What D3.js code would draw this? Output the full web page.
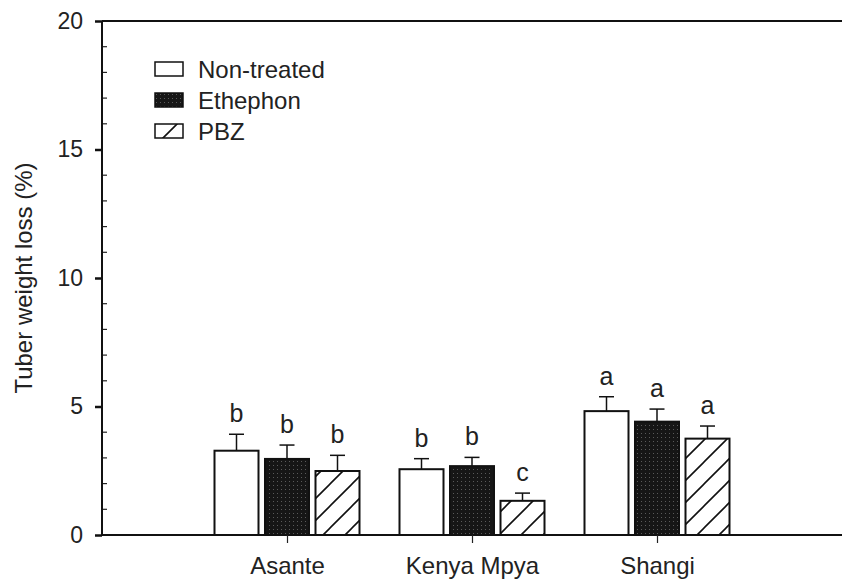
<!DOCTYPE html>
<html>
<head>
<meta charset="utf-8">
<script src="https://cdn.jsdelivr.net/npm/d3@7"></script>
<style>
	body { margin: 0; background: #fff; }
	svg { display: block; font-family: "Liberation Sans", Arial, sans-serif; }
</style>
</head>
<body>
<div id="chart"></div>
<script>
var cultivars = ["Asante", "Kenya Mpya", "Shangi"];
var treatments = ["Non-treated", "Ethephon", "PBZ"];
// mean tuber weight loss (%) per cultivar, one array per treatment
var nonTreated = [3.28, 2.56, 4.82];
var ethephon = [2.96, 2.68, 4.41];
var pbz = [2.49, 1.33, 3.75];
// standard error
var nonTreatedErr = [0.64, 0.41, 0.56];
var ethephonErr = [0.54, 0.34, 0.49];
var pbzErr = [0.61, 0.30, 0.49];
// significance letters
var nonTreatedLetters = ["b", "b", "a"];
var ethephonLetters = ["b", "b", "a"];
var pbzLetters = ["b", "c", "a"];
var yTicks = [0, 5, 10, 15, 20];

var width = 842,
	height = 582;
var marginLeft = 102,
	marginTop = 21,
	axisBottom = 535;

var series = [
	{ name: treatments[0], values: nonTreated, err: nonTreatedErr, letters: nonTreatedLetters, fill: "#fff" },
	{ name: treatments[1], values: ethephon, err: ethephonErr, letters: ethephonLetters, fill: "url(#dots)" },
	{ name: treatments[2], values: pbz, err: pbzErr, letters: pbzLetters, fill: "url(#hatch)" },
];

var svg = d3
	.select("#chart")
	.append("svg")
	.attr("width", width)
	.attr("height", height);

var defs = svg.append("defs");
var dots = defs
	.append("pattern")
	.attr("id", "dots")
	.attr("patternUnits", "userSpaceOnUse")
	.attr("width", 4)
	.attr("height", 4);
dots.append("rect").attr("width", 4).attr("height", 4).attr("fill", "#161616");
dots.append("rect").attr("x", 1).attr("y", 1).attr("width", 1).attr("height", 1).attr("fill", "#5a5a5a");

var hatch = defs
	.append("pattern")
	.attr("id", "hatch")
	.attr("patternUnits", "userSpaceOnUse")
	.attr("width", 22)
	.attr("height", 22);
hatch.append("rect").attr("width", 22).attr("height", 22).attr("fill", "#fff");
hatch
	.append("path")
	.attr("d", "M-5.5,5.5L5.5,-5.5M0,22L22,0M16.5,27.5L27.5,16.5")
	.attr("stroke", "#111")
	.attr("stroke-width", 1.6);

var x = d3.scalePoint().domain(cultivars).range([marginLeft, width]).padding(1);
var y = d3.scaleLinear().domain([0, 20]).range([axisBottom, marginTop]);

var barW = 44,
	barGap = 6.5;
function barX(i, j) {
	return x(cultivars[i]) + (j - 1) * (barW + barGap) - barW / 2;
}

// y axis: major ticks outward, minor ticks inward
var yAxis = svg.append("g").attr("transform", "translate(" + marginLeft + ",0)");
yAxis.call(d3.axisLeft(y).tickValues(yTicks).tickSize(7).tickPadding(12));
yAxis.select(".domain").remove();
yAxis.selectAll(".tick line").attr("stroke", "#111").attr("stroke-width", 2.5);
yAxis
	.selectAll(".tick text")
	.attr("font-size", 23)
	.attr("font-family", "Liberation Sans, Arial, sans-serif")
	.attr("fill", "#222");
svg
	.append("g")
	.selectAll("line")
	.data(d3.range(1, 20).filter(function (v) { return v % 5 !== 0; }))
	.enter()
	.append("line")
	.attr("x1", marginLeft)
	.attr("x2", marginLeft + 5)
	.attr("y1", function (d) { return y(d); })
	.attr("y2", function (d) { return y(d); })
	.attr("stroke", "#222")
	.attr("stroke-width", 1.2);

// frame lines
svg.append("line").attr("x1", marginLeft).attr("x2", marginLeft).attr("y1", marginTop).attr("y2", axisBottom).attr("stroke", "#111").attr("stroke-width", 2);
svg.append("line").attr("x1", marginLeft).attr("x2", width).attr("y1", marginTop).attr("y2", marginTop).attr("stroke", "#111").attr("stroke-width", 2);

// bars
series.forEach(function (s, j) {
	var g = svg.append("g");
	// error bars (upper only)
	g.selectAll("line.err")
		.data(s.values)
		.enter()
		.append("line")
		.attr("x1", function (d, i) { return barX(i, j) + barW / 2; })
		.attr("x2", function (d, i) { return barX(i, j) + barW / 2; })
		.attr("y1", function (d) { return y(d); })
		.attr("y2", function (d, i) { return y(d + s.err[i]); })
		.attr("stroke", "#111")
		.attr("stroke-width", 1.5);
	g.selectAll("line.cap")
		.data(s.values)
		.enter()
		.append("line")
		.attr("x1", function (d, i) { return barX(i, j) + barW / 2 - 7.5; })
		.attr("x2", function (d, i) { return barX(i, j) + barW / 2 + 7.5; })
		.attr("y1", function (d, i) { return y(d + s.err[i]); })
		.attr("y2", function (d, i) { return y(d + s.err[i]); })
		.attr("stroke", "#111")
		.attr("stroke-width", 1.5);
	g.selectAll("rect")
		.data(s.values)
		.enter()
		.append("rect")
		.attr("x", function (d, i) { return barX(i, j); })
		.attr("y", function (d) { return y(d); })
		.attr("width", barW)
		.attr("height", function (d) { return y(0) - y(d); })
		.attr("fill", s.fill)
		.attr("stroke", "#111")
		.attr("stroke-width", 2);
	g.selectAll("text")
		.data(s.values)
		.enter()
		.append("text")
		.attr("x", function (d, i) { return barX(i, j) + barW / 2; })
		.attr("y", function (d, i) { return y(d + s.err[i]) - 12; })
		.attr("text-anchor", "middle")
		.attr("font-size", 25)
		.attr("fill", "#222")
		.text(function (d, i) { return s.letters[i]; });
});

// x axis
var xAxis = svg.append("g").attr("transform", "translate(0," + axisBottom + ")");
xAxis.call(d3.axisBottom(x).tickSize(8).tickPadding(14));
xAxis.select(".domain").attr("d", "M" + marginLeft + ",0H" + width).attr("stroke", "#111").attr("stroke-width", 2);
xAxis.selectAll(".tick line").attr("stroke", "#222").attr("stroke-width", 1.2);
xAxis
	.selectAll(".tick text")
	.attr("font-size", 24)
	.attr("font-family", "Liberation Sans, Arial, sans-serif")
	.attr("fill", "#222");

// y title
svg
	.append("text")
	.attr("transform", "translate(32," + (marginTop + axisBottom) / 2 + ") rotate(-90)")
	.attr("text-anchor", "middle")
	.attr("font-size", 24)
	.attr("fill", "#222")
	.text("Tuber weight loss (%)");

// legend
var legend = svg
	.append("g")
	.selectAll("g")
	.data(series)
	.enter()
	.append("g")
	.attr("transform", function (d, i) { return "translate(155," + (62 + i * 31) + ")"; });
legend
	.append("rect")
	.attr("width", 28)
	.attr("height", 14)
	.attr("fill", function (d) { return d.fill; })
	.attr("stroke", "#111")
	.attr("stroke-width", 1.5);
legend
	.append("text")
	.attr("x", 43)
	.attr("y", 16)
	.attr("font-size", 24)
	.attr("fill", "#222")
	.text(function (d) { return d.name; });
</script>
</body>
</html>
